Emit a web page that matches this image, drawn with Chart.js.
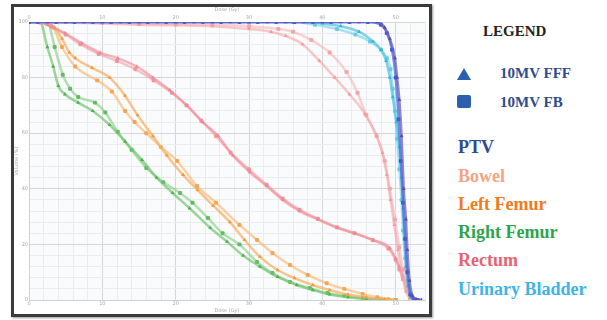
<!DOCTYPE html>
<html>
<head>
<meta charset="utf-8">
<script src="https://cdn.jsdelivr.net/npm/chart.js@4.4.1/dist/chart.umd.min.js"></script>
<style>
  body { margin: 0; background: #fff; width: 607px; height: 320px; position: relative; overflow: hidden; }
  #frame { position: absolute; left: 11px; top: 4px; width: 421px; height: 313px; border: 3px solid #3b3b3b; box-sizing: border-box; box-shadow: 1px 1px 2px rgba(0,0,0,0.4); background: #fff; }
  .lg { position: absolute; font-family: "Liberation Serif", "DejaVu Serif", serif; font-weight: bold; line-height: 1; white-space: nowrap; }
</style>
</head>
<body>
<div id="frame"><canvas id="dvhChart" width="415" height="307"></canvas></div>

<div class="lg" style="left:483px; top:24px; font-size:15px; color:#222;">LEGEND</div>
<div style="position:absolute; left:457px; top:68px; width:0; height:0; border-left:7.5px solid transparent; border-right:7.5px solid transparent; border-bottom:12px solid #2b5fad;"></div>
<div class="lg" style="left:500px; top:66px; font-size:15px; color:#2e4d8e;">10MV FFF</div>
<div style="position:absolute; left:457px; top:95px; width:14px; height:13px; border-radius:2px; background:#2b5fad;"></div>
<div class="lg" style="left:500px; top:95px; font-size:15px; color:#2e4d8e;">10MV FB</div>

<div class="lg" style="left:458px; top:138px; font-size:18px; color:#2f4b8c;">PTV</div>
<div class="lg" style="left:458px; top:167px; font-size:18px; color:#f4a384;">Bowel</div>
<div class="lg" style="left:458px; top:195px; font-size:18px; color:#f07a22;">Left Femur</div>
<div class="lg" style="left:458px; top:223px; font-size:18px; color:#2ea44c;">Right Femur</div>
<div class="lg" style="left:458px; top:251px; font-size:18px; color:#e8636f;">Rectum</div>
<div class="lg" style="left:458px; top:280px; font-size:18px; color:#3cb4e8;">Urinary Bladder</div>

<script>
// --- Datos (dosis en Gy, volumen en %) ---
const ptvFffDose = [0, 2.5, 5, 7.5, 10, 12.5, 15, 17.5, 20, 22.5, 25, 27.5, 30, 32.5, 35, 37.5, 40, 42.5, 45, 47.5, 48.5, 49.2, 49.9, 50.2, 50.5, 50.8, 51.1, 51.4, 51.6, 51.9, 52.3, 52.8, 53.5];
const ptvFffVol  = [100, 100, 100, 100, 100, 100, 100, 100, 100, 100, 100, 100, 100, 100, 100, 100, 100, 100, 100, 100, 98, 94, 87, 80, 72, 59, 40, 29, 18, 7, 1.5, 0.3, 0];

const ptvFbDose = [0, 1.2, 3.7, 6.2, 8.7, 11.2, 13.7, 16.2, 18.7, 21.2, 23.7, 26.2, 28.7, 31.2, 33.7, 36.2, 38.7, 41.2, 43.7, 46.2, 48, 48.8, 49.5, 50, 50.4, 50.7, 51, 51.3, 51.6, 52, 52.5, 53];
const ptvFbVol  = [100, 100, 100, 100, 100, 100, 100, 100, 100, 100, 100, 100, 100, 100, 100, 100, 100, 100, 100, 100, 99, 96, 90, 80, 65, 50, 35, 22, 10, 2, 0.3, 0];

const bladderFffDose = [0, 10, 20, 30, 38, 40, 42.5, 45, 46.9, 48, 48.7, 49.2, 49.6, 50.1, 50.5, 50.8, 51, 51.2, 51.4, 51.7, 52.1, 52.6];
const bladderFffVol  = [100, 100, 100, 100, 100, 99.5, 98.5, 96.5, 93, 90, 86, 80, 73, 64, 55, 44, 33, 22, 12, 5, 1, 0];

const bladderFbDose = [0, 10, 20, 30, 36, 39, 42, 44.5, 46.5, 48, 48.8, 49.3, 49.6, 49.9, 50.2, 50.5, 50.8, 51, 51.3, 51.6, 52, 52.5];
const bladderFbVol  = [100, 100, 100, 100, 100, 99, 97.5, 95.5, 93, 90, 87, 83, 76, 68, 58, 47, 36, 25, 15, 7, 2, 0];

const bowelFffDose = [0, 5, 10, 15, 20, 25, 30, 33, 35, 37.3, 39.6, 41.7, 43.7, 45.8, 47.4, 48.2, 48.8, 49.3, 49.8, 50.3, 50.9, 51.4, 51.9, 52.4];
const bowelFffVol  = [100, 99.8, 99.5, 99, 98.8, 98.5, 97.5, 96.5, 95, 92, 86, 80, 74, 67, 59, 53, 45, 36, 27, 18, 9, 3, 0.5, 0];

const bowelFbDose = [0, 5, 10, 15, 20, 25, 30, 34, 36, 38.5, 41, 43.3, 44.8, 46, 47.4, 48.5, 49.2, 49.9, 50.5, 51, 51.5, 52, 52.6];
const bowelFbVol  = [100, 100, 99.8, 99.5, 99.3, 99, 98.5, 97.5, 96.5, 93.5, 89, 82, 74.5, 66.5, 59, 50, 40, 29, 19, 11, 4, 1, 0];

const rectumFffDose = [0, 1.5, 2.5, 4.9, 7.2, 9.7, 12.1, 14.7, 16.9, 19.2, 21.5, 23.7, 25.8, 27.8, 30.1, 32.4, 34.6, 36.9, 39.4, 42, 44.4, 46.9, 49.2, 50, 50.5, 51, 51.5, 52, 52.5, 53];
const rectumFffVol  = [100, 100, 99, 96, 92.4, 89, 87, 84, 80, 75.5, 70, 64, 59, 52, 46, 41, 36, 32, 29, 26, 24, 21.6, 18.7, 15, 12, 8.5, 5, 2, 0.5, 0];

const rectumFbDose = [0, 1.5, 3, 5, 7, 9.5, 12, 14.5, 17, 19.5, 21.5, 23.5, 25.5, 27.5, 30, 32.4, 34.6, 36.9, 39.4, 42, 44.4, 46.9, 49, 50, 50.5, 51, 51.5, 52, 52.5];
const rectumFbVol  = [100, 99.8, 98.5, 95.5, 92, 88.5, 86, 83, 79, 74.5, 70, 64.5, 59, 53, 47, 41.5, 36.5, 32.5, 29.2, 26.2, 24, 21.5, 18.5, 14.5, 11, 7.5, 4, 1.2, 0];

const lFemurFffDose = [0, 2.5, 3.5, 4.5, 5.5, 6.3, 8.6, 11, 13.1, 14.8, 16.9, 18.8, 21, 23, 25.1, 27.4, 29.4, 31.5, 33.9, 36.2, 38.7, 41, 43.5, 46, 48.5, 50];
const lFemurFffVol  = [100, 100, 98, 94, 89, 87, 83.5, 80, 73.5, 66.5, 59, 52, 45, 39.5, 34, 28, 21.6, 15.5, 10.8, 7.9, 5.4, 3.6, 2, 1, 0.3, 0];

const lFemurFbDose = [0, 2.5, 3.3, 4.5, 6.3, 9.3, 11.3, 13.1, 14.4, 16, 18, 20.2, 22.9, 25.5, 28.7, 31.1, 33.2, 35.6, 38, 40.6, 43, 45.5, 47.5, 49, 50];
const lFemurFbVol  = [100, 100, 98, 91, 84, 79, 75, 68, 64, 60, 55, 50, 41, 35, 27, 21.6, 16.9, 12.6, 9, 6, 4, 2.2, 1, 0.3, 0];

const rFemurFffDose = [0, 1.5, 2.5, 3.3, 4, 4.9, 6.7, 8.7, 11, 13.1, 15.4, 17.4, 19.6, 21.9, 24.7, 27, 29.2, 31.5, 33.9, 36.5, 38.7, 41, 43.5, 46, 48];
const rFemurFffVol  = [100, 100, 91, 84, 77, 74, 71, 68, 63, 57, 50.4, 44, 38.5, 33, 26, 21, 16, 12, 8.3, 5.4, 3.6, 2, 1, 0.3, 0];

const rFemurFbDose = [0, 2.5, 3.5, 4.6, 5.6, 6.7, 9, 10.4, 12.1, 14, 16, 18.3, 20.6, 22.3, 24.4, 26.4, 28.7, 31.1, 33.2, 35.6, 38.3, 40.7, 43, 45.5, 48, 50];
const rFemurFbVol  = [100, 100, 91, 81, 76, 73, 71, 67.5, 60.5, 54, 47.5, 42.4, 38.5, 35, 29.5, 24, 20, 13.7, 9.7, 6.5, 4.3, 2.5, 1.5, 0.7, 0.2, 0];

const xTicks = [0, 10, 20, 30, 40, 50];
const yTicks = [0, 20, 40, 60, 80, 100];

const pts = (dose, vol) => dose.map((d, i) => ({ x: d, y: vol[i] }));

const serie = (dose, vol, line, point, style) => ({
    data: pts(dose, vol),
    borderColor: line,
    borderWidth: 2.5,
    backgroundColor: point,
    pointBackgroundColor: point,
    pointBorderColor: point,
    pointBorderWidth: 0,
    pointStyle: style,
    pointRadius: 2.3,
    cubicInterpolationMode: 'monotone',
    fill: false,
});

// fondo suave del área de trazado
const areaBg = {
    id: 'areaBg',
    beforeDraw(chart) {
        const { ctx, chartArea: a } = chart;
        ctx.save();
        ctx.fillStyle = '#fafbfc';
        ctx.fillRect(a.left, a.top, a.right - a.left, a.bottom - a.top);
        ctx.restore();
    }
};

const tickFont = { family: 'DejaVu Sans', size: 5 };
const tickColor = '#a8a8a8';

new Chart(document.getElementById('dvhChart'), {
    type: 'line',
    data: {
        datasets: [
            serie(ptvFffDose, ptvFffVol, 'rgba(110,92,200,0.75)', '#5a48b8', 'triangle'),
            serie(ptvFbDose, ptvFbVol, 'rgba(70,112,215,0.75)', '#3a5fc8', 'rectRounded'),
            serie(bladderFffDose, bladderFffVol, 'rgba(85,198,228,0.75)', '#38b6da', 'triangle'),
            serie(bladderFbDose, bladderFbVol, 'rgba(130,215,235,0.7)', '#6ccbe4', 'rectRounded'),
            serie(bowelFffDose, bowelFffVol, 'rgba(245,165,168,0.6)', '#f29ca0', 'triangle'),
            serie(bowelFbDose, bowelFbVol, 'rgba(245,175,178,0.55)', '#f2a6a8', 'rectRounded'),
            serie(rectumFffDose, rectumFffVol, 'rgba(240,140,150,0.65)', '#ec8a94', 'triangle'),
            serie(rectumFbDose, rectumFbVol, 'rgba(242,155,162,0.6)', '#ef96a0', 'rectRounded'),
            serie(lFemurFffDose, lFemurFffVol, 'rgba(246,172,95,0.7)', '#f39a3c', 'triangle'),
            serie(lFemurFbDose, lFemurFbVol, 'rgba(247,185,120,0.65)', '#f5a650', 'rectRounded'),
            serie(rFemurFffDose, rFemurFffVol, 'rgba(112,196,112,0.7)', '#4db24d', 'triangle'),
            serie(rFemurFbDose, rFemurFbVol, 'rgba(140,208,140,0.65)', '#62bd62', 'rectRounded'),
        ]
    },
    options: {
        responsive: false,
        animation: false,
        layout: { padding: { left: 0, right: 4, top: 0, bottom: 0 } },
        plugins: { legend: { display: false }, tooltip: { enabled: false } },
        scales: {
            x: {
                type: 'linear', position: 'bottom', min: 0, max: 54,
                afterFit: s => { s.height = 14; },
                afterBuildTicks: s => { s.ticks = []; for (let v = 0; v <= 54; v += 2) s.ticks.push({ value: v }); },
                ticks: { autoSkip: false, maxRotation: 0, padding: 1, font: tickFont, color: tickColor,
                         callback: v => xTicks.includes(v) ? String(v) : '' },
                grid: { drawTicks: false, color: c => xTicks.includes(c.tick && c.tick.value) ? '#d6d6d6' : '#ececec' },
                border: { color: '#d0d0d0' },
                title: { display: true, text: 'Dose (Gy)', font: tickFont, color: tickColor, padding: 0 }
            },
            x2: {
                type: 'linear', position: 'top', min: 0, max: 54,
                afterFit: s => { s.height = 15; },
                afterBuildTicks: s => { s.ticks = xTicks.map(v => ({ value: v })); },
                ticks: { autoSkip: false, maxRotation: 0, padding: 1, font: tickFont, color: tickColor },
                grid: { display: false, drawTicks: false },
                border: { display: false },
                title: { display: true, text: 'Dose (Gy)', font: tickFont, color: tickColor, padding: 0 }
            },
            y: {
                type: 'linear', min: 0, max: 100,
                afterFit: s => { s.width = 15; },
                afterBuildTicks: s => { s.ticks = []; for (let v = 0; v <= 100; v += 4) s.ticks.push({ value: v }); },
                ticks: { autoSkip: false, padding: 1, font: tickFont, color: tickColor,
                         callback: v => yTicks.includes(v) ? String(v) : '' },
                grid: { drawTicks: false, color: c => yTicks.includes(c.tick && c.tick.value) ? '#d6d6d6' : '#ececec' },
                border: { color: '#d0d0d0' },
                title: { display: true, text: 'Volume (%)', font: tickFont, color: tickColor, padding: 0 }
            }
        }
    },
    plugins: [areaBg]
});
</script>
</body>
</html>
